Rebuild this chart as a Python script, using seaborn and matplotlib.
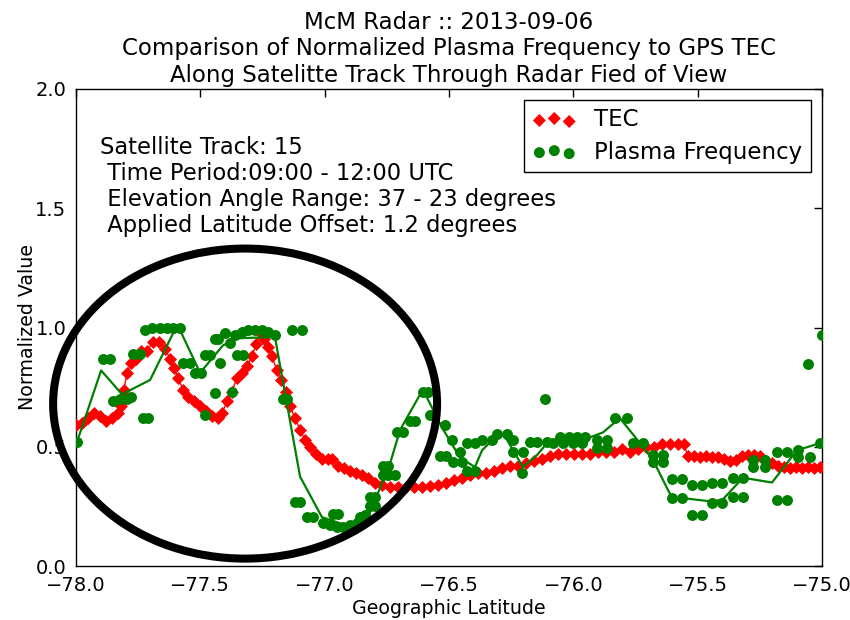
import numpy as np
import pandas as pd
import matplotlib
matplotlib.use("Agg")
import matplotlib.pyplot as plt
from matplotlib.patches import Ellipse
import seaborn as sns

# ---------------- data ----------------
tec_lat = [-78.000, -77.976, -77.952, -77.928, -77.903, -77.879, -77.855, -77.831, -77.819, -77.807,
           -77.795, -77.779, -77.759, -77.739, -77.715, -77.690, -77.666, -77.642, -77.622, -77.606,
           -77.590, -77.570, -77.550, -77.526, -77.501, -77.477, -77.453, -77.429, -77.413, -77.393,
           -77.373, -77.353, -77.333, -77.312, -77.292, -77.276, -77.260, -77.244, -77.228, -77.212,
           -77.192, -77.176, -77.156, -77.140, -77.119, -77.099, -77.079, -77.059, -77.035, -77.011,
           -76.987, -76.971, -76.947, -76.922, -76.898, -76.874, -76.850, -76.826, -76.798, -76.770,
           -76.737, -76.705, -76.673, -76.641, -76.609, -76.577, -76.544, -76.512, -76.480, -76.448,
           -76.416, -76.384, -76.351, -76.319, -76.287, -76.255, -76.223, -76.191, -76.158, -76.126,
           -76.094, -76.062, -76.030, -75.998, -75.965, -75.933, -75.901, -75.869, -75.837, -75.805,
           -75.772, -75.740, -75.708, -75.676, -75.644, -75.612, -75.579, -75.555, -75.539, -75.515,
           -75.491, -75.467, -75.443, -75.419, -75.394, -75.370, -75.346, -75.322, -75.298, -75.274,
           -75.250, -75.225, -75.201, -75.177, -75.153, -75.129, -75.105, -75.081, -75.057, -75.033,
           -75.008]
tec_val = [0.59, 0.60, 0.62, 0.64, 0.63, 0.61, 0.62, 0.64, 0.67, 0.74,
           0.81, 0.85, 0.87, 0.90, 0.90, 0.94, 0.94, 0.91, 0.87, 0.83,
           0.79, 0.74, 0.71, 0.69, 0.67, 0.65, 0.63, 0.62, 0.64, 0.69,
           0.73, 0.79, 0.81, 0.84, 0.88, 0.93, 0.98, 0.95, 0.92, 0.88,
           0.82, 0.78, 0.73, 0.67, 0.62, 0.57, 0.53, 0.50, 0.47, 0.45,
           0.45, 0.45, 0.42, 0.41, 0.40, 0.39, 0.38, 0.37, 0.35, 0.34,
           0.33, 0.33, 0.33, 0.33, 0.33, 0.335, 0.34, 0.35, 0.36, 0.37,
           0.38, 0.39, 0.39, 0.40, 0.41, 0.42, 0.42, 0.43, 0.44, 0.45,
           0.46, 0.47, 0.47, 0.47, 0.47, 0.47, 0.48, 0.48, 0.48, 0.49,
           0.48, 0.49, 0.50, 0.50, 0.51, 0.51, 0.51, 0.51, 0.46, 0.46,
           0.455, 0.46, 0.455, 0.455, 0.45, 0.44, 0.445, 0.46, 0.465, 0.465,
           0.46, 0.44, 0.43, 0.42, 0.415, 0.41, 0.415, 0.41, 0.415, 0.41,
           0.415]

plasma_lat = [-77.996,
              -77.891, -77.863,
              -77.851, -77.823, -77.795, -77.779,
              -77.731, -77.710,
              -77.771, -77.743,
              -77.723, -77.694, -77.662, -77.634, -77.610, -77.582,
              -77.570, -77.542,
              -77.521, -77.497,
              -77.481, -77.461,
              -77.421,
              -77.441, -77.429,
              -77.401,
              -77.381,
              -77.353, -77.329,
              -77.361, -77.333, -77.308, -77.280, -77.252, -77.228, -77.200,
              -77.441, -77.481, -77.373,
              -77.131, -77.091,
              -77.168, -77.152,
              -77.119, -77.099,
              -77.071, -77.047,
              -76.967, -76.947,
              -77.007, -76.979, -76.951, -76.926, -76.898, -76.870,
              -76.858, -76.838,
              -76.818, -76.798,
              -76.818, -76.798,
              -76.766, -76.745, -76.717,
              -76.766, -76.745,
              -76.709, -76.685,
              -76.657, -76.637,
              -76.605, -76.585,
              -76.577, -76.516,
              -76.536, -76.512,
              -76.488,
              -76.484, -76.448,
              -76.456,
              -76.428, -76.396,
              -76.428, -76.396,
              -76.367, -76.327,
              -76.307, -76.267,
              -76.243,
              -76.243, -76.203,
              -76.207,
              -76.174, -76.146, -76.106,
              -76.114,
              -76.082, -76.042, -76.002, -75.965,
              -76.054, -76.018, -75.986, -75.953,
              -75.905, -75.865,
              -75.905, -75.865,
              -75.833, -75.784,
              -75.760, -75.720,
              -75.680, -75.640,
              -75.680, -75.640,
              -75.603, -75.563,
              -75.603, -75.563,
              -75.523, -75.483,
              -75.523, -75.483,
              -75.443, -75.402,
              -75.443, -75.402,
              -75.358, -75.318,
              -75.358, -75.318,
              -75.278, -75.230,
              -75.278, -75.230,
              -75.181, -75.141,
              -75.181, -75.141,
              -75.097,
              -75.097, -75.049,
              -75.008, -75.057, -75.000]
plasma_val = [0.52,
              0.87, 0.87,
              0.69, 0.70, 0.70, 0.71,
              0.62, 0.62,
              0.89, 0.89,
              0.99, 1.00, 1.00, 1.00, 1.00, 1.00,
              0.85, 0.85,
              0.81, 0.81,
              0.885, 0.885,
              0.85,
              0.95, 0.95,
              0.975,
              0.935,
              0.885, 0.885,
              0.97, 0.98, 0.99, 0.99, 0.99, 0.98, 0.97,
              0.725, 0.635, 0.73,
              0.99, 0.99,
              0.70, 0.70,
              0.27, 0.27,
              0.205, 0.205,
              0.22, 0.22,
              0.18, 0.17, 0.165, 0.165, 0.17, 0.18,
              0.205, 0.215,
              0.25, 0.25,
              0.29, 0.29,
              0.38, 0.38, 0.38,
              0.42, 0.42,
              0.56, 0.56,
              0.61, 0.61,
              0.73, 0.73,
              0.635, 0.59,
              0.46, 0.46,
              0.53,
              0.435, 0.435,
              0.48,
              0.515, 0.515,
              0.40, 0.40,
              0.53, 0.53,
              0.555, 0.555,
              0.53,
              0.48, 0.48,
              0.39,
              0.52, 0.52, 0.52,
              0.70,
              0.515, 0.515, 0.515, 0.515,
              0.54, 0.54, 0.54, 0.54,
              0.53, 0.53,
              0.495, 0.495,
              0.62, 0.62,
              0.515, 0.515,
              0.465, 0.465,
              0.435, 0.435,
              0.365, 0.365,
              0.285, 0.285,
              0.34, 0.34,
              0.215, 0.215,
              0.35, 0.35,
              0.265, 0.265,
              0.37, 0.37,
              0.29, 0.29,
              0.445, 0.445,
              0.415, 0.415,
              0.48, 0.48,
              0.275, 0.275,
              0.485,
              0.455, 0.455,
              0.515, 0.845, 0.97]

avg_lat = [-77.996, -77.899, -77.815, -77.702, -77.610, -77.582, -77.501, -77.409, -77.349, -77.200,
           -77.099, -77.011, -76.898, -76.830, -76.786, -76.737, -76.697, -76.605, -76.528, -76.456,
           -76.396, -76.367, -76.295, -76.267, -76.203, -76.146, -76.106, -75.945, -75.881, -75.813,
           -75.720, -75.680, -75.603, -75.563, -75.439, -75.398, -75.318, -75.201, -75.101, -75.008]
avg_val = [0.52, 0.82, 0.72, 0.78, 0.975, 0.99, 0.81, 0.925, 0.955, 0.96,
           0.375, 0.205, 0.165, 0.195, 0.305, 0.43, 0.57, 0.74, 0.58, 0.455,
           0.415, 0.485, 0.56, 0.53, 0.415, 0.465, 0.515, 0.535, 0.56, 0.62,
           0.50, 0.445, 0.285, 0.285, 0.27, 0.28, 0.37, 0.35, 0.485, 0.515]

title_lines = ["McM Radar :: 2013-09-06",
               "Comparison of Normalized Plasma Frequency to GPS TEC",
               "Along Satelitte Track Through Radar Fied of View"]
info_lines = ["Satellite Track: 15",
              " Time Period:09:00 - 12:00 UTC",
              " Elevation Angle Range: 37 - 23 degrees",
              " Applied Latitude Offset: 1.2 degrees"]
x_ticks = [-78.0, -77.5, -77.0, -76.5, -76.0, -75.5, -75.0]
y_ticks = [0.0, 0.5, 1.0, 1.5, 2.0]

# ---------------- style ----------------
sns.set_style("white")
plt.rcParams['font.family'] = ['DejaVu Sans']
plt.rcParams['text.color'] = 'black'
plt.rcParams['axes.labelcolor'] = 'black'
plt.rcParams['xtick.color'] = 'black'
plt.rcParams['ytick.color'] = 'black'
plt.rcParams['axes.edgecolor'] = 'black'
plt.rcParams['axes.linewidth'] = 1.0

fig = plt.figure(figsize=(8.5, 6.2), dpi=100)
ax = fig.add_axes([76/850, 1-566/620, 746/850, 477/620])

tec_df = pd.DataFrame({"lat": tec_lat, "val": tec_val})
pl_df = pd.DataFrame({"lat": plasma_lat, "val": plasma_val})
avg_df = pd.DataFrame({"lat": avg_lat, "val": avg_val})

sns.lineplot(data=tec_df, x="lat", y="val", sort=False, estimator=None,
             color="red", lw=1.0, ax=ax, zorder=2)
sns.scatterplot(data=tec_df, x="lat", y="val", marker="D", color="red",
                s=44, linewidth=0, ax=ax, zorder=3)
sns.scatterplot(data=pl_df, x="lat", y="val", marker="o", color="green",
                s=62, linewidth=0, ax=ax, zorder=4)
sns.lineplot(data=avg_df, x="lat", y="val", sort=False, estimator=None,
             color="green", lw=1.6, ax=ax, zorder=4)

ax.set_xlim(-78.0, -75.0)
ax.set_ylim(0.0, 2.0)
ax.set_xticks(x_ticks)
ax.set_yticks(y_ticks)
ax.set_xticklabels([f"{t:.1f}".replace("-", "\u2212") for t in x_ticks])
ax.set_yticklabels([f"{t:.1f}" for t in y_ticks])
ax.tick_params(direction="in", top=True, right=True, length=6, width=1,
               labelsize=14, pad=7, colors="black")
for sp in ax.spines.values():
    sp.set_visible(True)
    sp.set_color("black")
    sp.set_linewidth(1.0)

ax.set_xlabel("Geographic Latitude", fontsize=13.7, labelpad=3)
ax.set_ylabel("Normalized Value", fontsize=13.7, labelpad=-1)
ax.set_title("\n".join(title_lines), fontsize=16.5, linespacing=1.2, pad=5)

ax.text(0.032, 0.901, "\n".join(info_lines), transform=ax.transAxes,
        fontsize=16.3, va="top", ha="left", linespacing=1.17)

handles = [ax.collections[0], ax.collections[1]]
ax.legend(handles, ["TEC", "Plasma Frequency"], loc="upper right",
          scatterpoints=3, scatteryoffsets=[0.375, 0.5, 0.3125],
          fontsize=16.5, frameon=True, fancybox=False, edgecolor="black",
          framealpha=1, borderaxespad=0.5, labelspacing=0.4, handletextpad=0.8,
          borderpad=0.35, handlelength=1.9)
leg = ax.get_legend()
leg.get_frame().set_linewidth(1.0)

ell = Ellipse((-77.32, 0.681), width=1.544, height=1.30, fill=False,
              lw=5.8, edgecolor="black", clip_on=False, zorder=6)
ax.add_patch(ell)

fig.savefig("out.png", dpi=100)
